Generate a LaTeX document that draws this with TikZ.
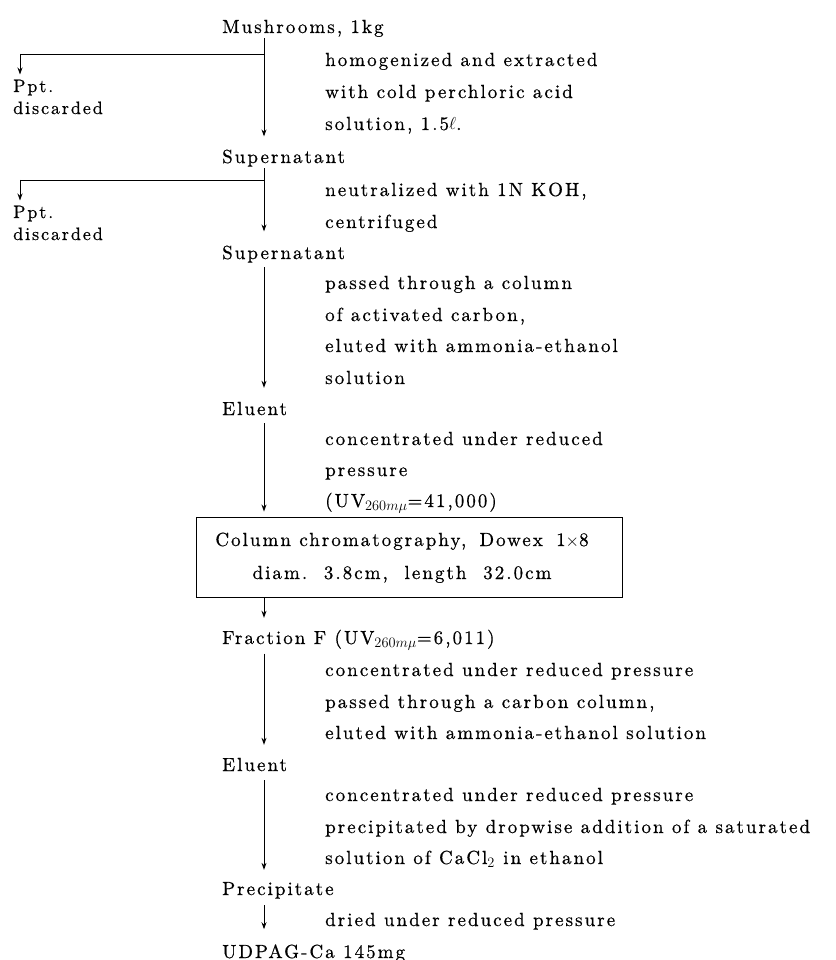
\documentclass[tikz,border=0pt]{standalone}
\usepackage{fontspec}
\setmainfont{lmroman10-regular.otf}[LetterSpace=10.7, FakeBold=0.6]
\usetikzlibrary{arrows.meta}
\begin{document}
\begin{tikzpicture}[x=1pt,y=-1pt,
  txt/.style={inner sep=0pt, anchor=base west, font=\fontsize{19}{22}\selectfont},
  stxt/.style={txt, font=\fontsize{18}{21}\selectfont},
  ctxt/.style={txt, anchor=base},
  arr/.style={-{Stealth[length=7pt,width=5pt]}, line width=0.9pt},
  ln/.style={line width=0.9pt},
  boxst/.style={draw, line width=0.9pt, inner sep=0pt, minimum width=426pt, minimum height=80pt}]
\useasboundingbox (0,0) rectangle (835,960);
\coordinate (ax) at (264,0);
\coordinate (bx) at (20,0);
\coordinate (j1) at (264,54);
\coordinate (j2) at (264,180);

% left column
\node[txt] (m1) at (222,33) {Mushrooms, 1kg};
\node[txt] (s1) at (222,163) {Supernatant};
\node[txt] (s2) at (222,259) {Supernatant};
\node[txt] (e1) at (222,415) {Eluent};
\node[txt] (f1) at (222,644) {Fraction F (UV$_{260m\mu}$=6,011)};
\node[txt] (e2) at (222,771) {Eluent};
\node[txt] (p1) at (222,895) {Precipitate};
\node[txt] (u1) at (222,958) {UDPAG-Ca 145mg};

% discarded
\node[stxt] (pp1) at (13,92) {Ppt.};
\node[stxt] (dd1) at (13,114) {discarded};
\node[stxt] (pp2) at (13,218) {Ppt.};
\node[stxt] (dd2) at (13,240) {discarded};

% right column
\node[txt] (r1a) at (325,66) {homogenized and extracted};
\node[txt] (r1b) at (325,98) {with cold perchloric acid};
\node[txt] (r1c) at (325,130) {solution, 1.5$\ell$.};
\node[txt] (r2a) at (325,196) {neutralized with 1N KOH,};
\node[txt] (r2b) at (325,228) {centrifuged};
\node[txt] (r3a) at (325,289) {passed through a column};
\node[txt] (r3b) at (325,321) {of activated carbon,};
\node[txt] (r3c) at (325,352) {eluted with ammonia-ethanol};
\node[txt] (r3d) at (325,384) {solution};
\node[txt] (r4a) at (325,445) {concentrated under reduced};
\node[txt] (r4b) at (325,476) {pressure};
\node[txt] (r4c) at (325,507) {(UV$_{260m\mu}$=41,000)};
\node[txt] (r5a) at (325,676) {concentrated under reduced pressure};
\node[txt] (r5b) at (325,708) {passed through a carbon column,};
\node[txt] (r5c) at (325,739) {eluted with ammonia-ethanol solution};
\node[txt] (r6a) at (325,801) {concentrated under reduced pressure};
\node[txt] (r6b) at (325,833) {precipitated by dropwise addition of a saturated};
\node[txt] (r6c) at (325,864) {solution of CaCl$_2$ in ethanol};
\node[txt] (r7a) at (325,926) {dried under reduced pressure};

% box
\node[boxst] (box) at (409,557) {};
\node[ctxt] (b1) at (402,546) {Column chromatography,\hspace{5pt} Dowex\hspace{5pt} 1$\times$8};
\node[ctxt] (b2) at (402,579) {diam.\ \ 3.8cm,\ \ length\ \ 32.0cm};

% main arrows
\draw[arr] ([yshift=-1.3pt]m1.south -| ax) -- ([yshift=13pt]s1.north -| ax);
\draw[ln] (j1) -- (j1 -| bx);
\draw[arr] (j1 -| bx) -- ([yshift=5pt]pp1.north -| bx);
\draw[arr] ([yshift=-1.3pt]s1.south -| ax) -- ([yshift=14pt]s2.north -| ax);
\draw[ln] (j2) -- (j2 -| bx);
\draw[arr] (j2 -| bx) -- ([yshift=5pt]pp2.north -| bx);
\draw[arr] ([yshift=-4.3pt]s2.south -| ax) -- ([yshift=13.8pt]e1.north -| ax);
\draw[arr] ([yshift=-8pt]e1.south -| ax) -- ([yshift=5pt]box.north -| ax);
\draw[arr] (box.south -| ax) -- ([yshift=11.75pt]f1.north -| ax);
\draw[arr] ([yshift=-3.25pt]f1.south -| ax) -- ([yshift=12.8pt]e2.north -| ax);
\draw[arr] ([yshift=-9pt]e2.south -| ax) -- ([yshift=12pt]p1.north -| ax);
\draw[arr] ([yshift=-6.3pt]p1.south -| ax) -- ([yshift=15pt]u1.north -| ax);
\end{tikzpicture}
\end{document}
